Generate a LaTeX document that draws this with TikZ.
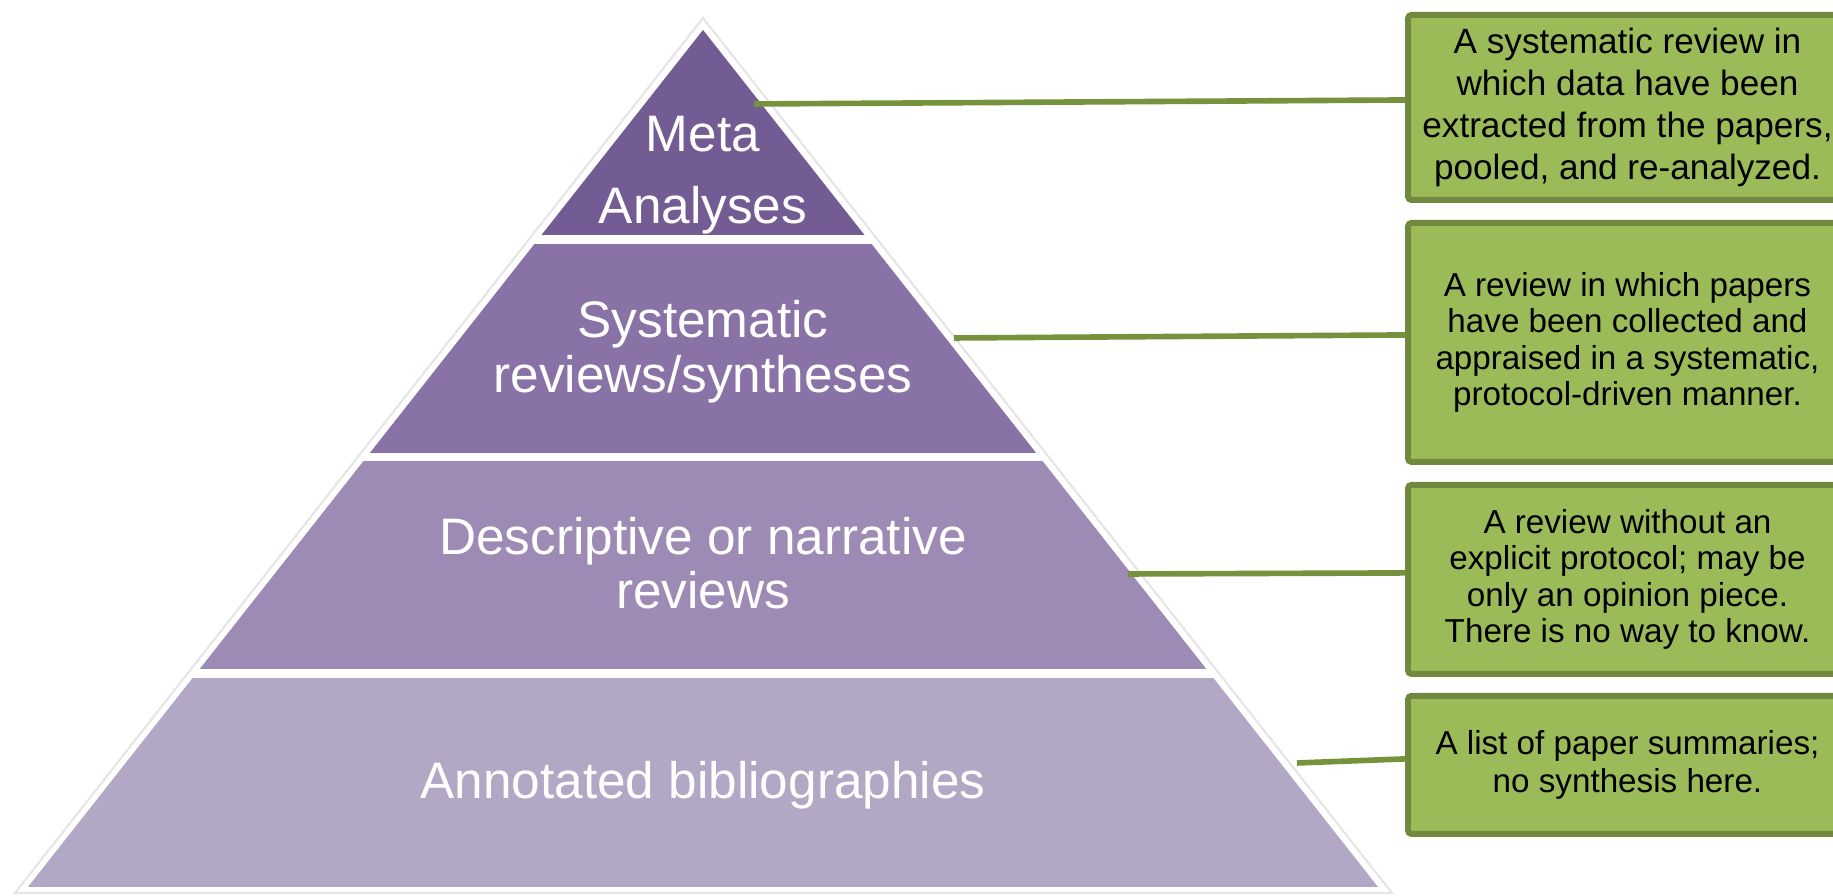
\documentclass[tikz,border=0pt]{standalone}
\usepackage{fontspec}
\setmainfont{Liberation Sans}
\usetikzlibrary{positioning}

\definecolor{tierA}{RGB}{115,91,147}
\definecolor{tierB}{RGB}{136,114,166}
\definecolor{tierC}{RGB}{157,139,181}
\definecolor{tierD}{RGB}{178,167,196}
\definecolor{notefill}{RGB}{155,187,89}
\definecolor{noteline}{RGB}{113,137,63}
\definecolor{linkline}{RGB}{118,146,60}

\begin{document}
\begin{tikzpicture}[
    tier/.style={text=white, align=center},
    note/.style={draw=noteline, fill=notefill, line width=1.7pt, rounded corners=1pt, minimum width=4.39cm, align=center, inner sep=0pt},
    link/.style={draw=linkline, line width=1.6pt}
  ]
        \clip (0,0) rectangle (18.33,8.96);

        % Pyramid
        \filldraw[fill=white, draw=black!10, line width=0.6pt] (7.03,8.78) -- (13.92,0.03) -- (0.15,0.03) -- cycle;
        \begin{scope}
          \clip (7.03,8.66) -- (13.78,0.09) -- (0.28,0.09) -- cycle;
          \fill[tierA] (0,8.70) rectangle (14,6.61);
          \fill[tierB] (0,6.52) rectangle (14,4.43);
          \fill[tierC] (0,4.35) rectangle (14,2.27);
          \fill[tierD] (0,2.18) rectangle (14,0.09);
        \end{scope}

        % Tier labels
        \node[tier, font=\fontsize{14.6}{20.5}\selectfont] (tier1) at (7.03,7.21) {Meta\\Analyses};
        \node[tier, font=\fontsize{14.6}{15.65}\selectfont] (tier2) at (7.03,5.445) {Systematic\\reviews/syntheses};
        \node[tier, font=\fontsize{14.6}{15.4}\selectfont] (tier3) at (7.03,3.33) {Descriptive or narrative\\reviews};
        \node[tier, font=\fontsize{14.6}{16}\selectfont] (tier4) at (7.03,1.11) {Annotated bibliographies};

        % Notes
        \node[note, minimum height=1.85cm, anchor=north west, font=\fontsize{10}{11.95}\selectfont] (note1) at (14.05,8.84) {A systematic review in\\which data have been\\extracted from the papers,\\pooled, and re-analyzed.};
        \node[note, minimum height=2.39cm, below=0.17cm of note1, font=\fontsize{9.45}{10.3}\selectfont] (note2) {A review in which papers\\have been collected and\\appraised in a systematic,\\protocol-driven manner.};
        \node[note, minimum height=1.89cm, below=0.17cm of note2, font=\fontsize{9.45}{10.3}\selectfont] (note3) {A review without an\\explicit protocol; may be\\only an opinion piece.\\There is no way to know.};
        \node[note, minimum height=1.38cm, below=0.16cm of note3, font=\fontsize{9.45}{10.6}\selectfont] (note4) {A list of paper summaries;\\no synthesis here.};

        % Links
        \coordinate (link1) at (7.54,7.92);
        \coordinate (link2) at (9.54,5.58);
        \coordinate (link3) at (11.28,3.22);
        \coordinate (link4) at (12.97,1.33);
        \draw[link] (link1) -- ([yshift=0.075cm]note1.west);
        \draw[link] (link2) -- ([yshift=0.075cm]note2.west);
        \draw[link] (link3) -- ([yshift=0.065cm]note3.west);
        \draw[link] (link4) -- ([yshift=0.06cm]note4.west);
    \end{tikzpicture}
\end{document}
